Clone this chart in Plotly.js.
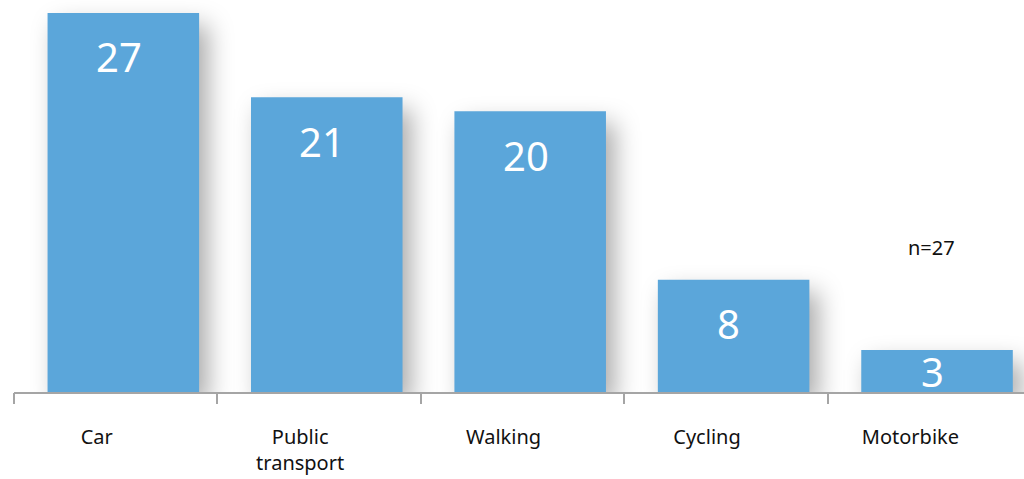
<!DOCTYPE html>
<html>
<head>
<meta charset="utf-8">
<script src="https://cdn.plot.ly/plotly-3.0.1.min.js"></script>
<style>
html,body{margin:0;padding:0;background:#fff;}
#chart{width:1024px;height:479px;}
.trace.bars .point path{filter:drop-shadow(9px 12px 12px rgba(0,0,0,0.33));}
</style>
</head>
<body>
<div id="chart"></div>
<script>
const categories = ["Car", "Public<br>transport", "Walking", "Cycling", "Motorbike"];
const values = [27, 21, 20, 8, 3];
const sampleNote = "n=27";

const barColor = "rgb(91,166,218)";
const axisColor = "#A5A5A5";
const fontFamily = "'Noto Sans', 'Open Sans', sans-serif";

const yMax = 27.92;
const plotHeight = 392;
const pxPerUnit = plotHeight / yMax;

const annotations = values.map((v, i) => {
  const barPx = v * pxPerUnit;
  const inTop = barPx > 90;
  return {
    x: i, y: inTop ? v : v / 2,
    xref: "x", yref: "y",
    text: String(v),
    showarrow: false,
    yanchor: "middle",
    xanchor: "center",
    xshift: 3,
    yshift: inTop ? -44 : -1,
    font: {family: fontFamily, size: 40, color: "#ffffff"}
  };
});
annotations.push({
  x: 4, y: 10.3, xref: "x", yref: "y",
  text: sampleNote, showarrow: false,
  xanchor: "center", yanchor: "middle",
  xshift: 2,
  font: {family: fontFamily, size: 20, color: "#111111"}
});

const trace = {
  type: "bar",
  x: categories.map((c, i) => i),
  y: values,
  width: 0.745,
  offset: -0.335,
  marker: {color: barColor, line: {width: 0}},
  cliponaxis: false,
  hoverinfo: "skip"
};

const layout = {
  width: 1024, height: 479,
  margin: {l: 14, r: 0, t: 0, b: 87, pad: 0},
  paper_bgcolor: "#ffffff",
  plot_bgcolor: "rgba(0,0,0,0)",
  showlegend: false,
  font: {family: fontFamily, size: 20, color: "#111111"},
  xaxis: {
    type: "linear",
    range: [-0.5, 4.465],
    tickmode: "array",
    tickvals: [0, 1, 2, 3, 4],
    ticktext: categories,
    showgrid: false,
    zeroline: false,
    showline: true,
    linecolor: axisColor,
    linewidth: 2,
    ticks: "",
    ticklabelshift: -19,
    ticklabelstandoff: 26,
    tickfont: {family: fontFamily, size: 20, color: "#111111"},
    fixedrange: true
  },
  xaxis2: {
    overlaying: "x",
    matching: "x",
    range: [-0.5, 4.465],
    tickmode: "array",
    tickvals: [-0.5, 0.5, 1.5, 2.5, 3.5],
    showticklabels: false,
    ticks: "outside",
    ticklen: 11,
    tickwidth: 2,
    tickcolor: axisColor,
    showgrid: false,
    zeroline: false,
    showline: false,
    anchor: "y"
  },
  yaxis: {
    range: [0, yMax],
    visible: false,
    showgrid: false,
    zeroline: false,
    fixedrange: true
  },
  annotations: annotations
};

const tickTrace = {type: "scatter", x: [0], y: [0], xaxis: "x2", mode: "markers", marker: {opacity: 0}, hoverinfo: "skip"};

Plotly.newPlot("chart", [trace, tickTrace], layout, {displayModeBar: false, staticPlot: true});
</script>
</body>
</html>
